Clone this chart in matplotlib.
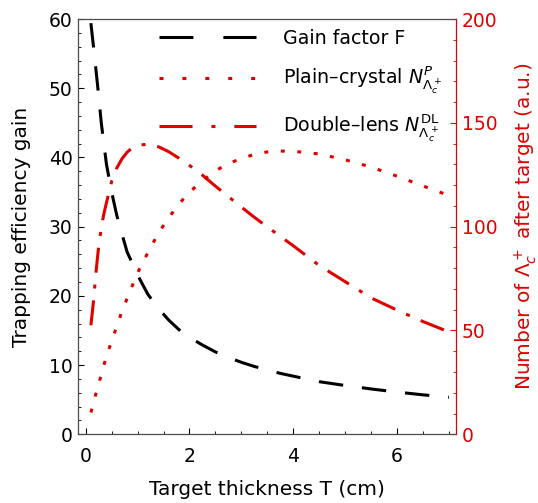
import matplotlib
matplotlib.use("Agg")
import matplotlib.pyplot as plt
from matplotlib.lines import Line2D
from matplotlib.ticker import MultipleLocator

# target thickness (cm)
thickness = [0.1, 0.15, 0.2, 0.25, 0.3, 0.35, 0.4, 0.5, 0.6, 0.7, 0.8, 0.9, 1.0,
             1.2, 1.4, 1.6, 1.8, 2.0, 2.25, 2.5, 2.75, 3.0, 3.25, 3.5, 3.75, 4.0,
             4.5, 5.0, 5.5, 6.0, 6.5, 7.0]

# gain factor F (left axis)
gain_f = [59.4, 56.0, 52.5, 48.9, 45.0, 42.0, 39.0, 35.0, 31.6, 28.9, 26.3, 24.7, 23.0,
          20.2, 18.2, 16.5, 15.1, 14.0, 12.9, 11.9, 11.1, 10.4, 9.8, 9.3, 8.8, 8.4,
          7.6, 7.05, 6.55, 6.1, 5.7, 5.35]

# plain-crystal N (right axis, a.u.)
n_plain = [10.5, 15.0, 19.9, 24.5, 28.5, 33.3, 37.5, 45.0, 52.0, 59.4, 65.5, 71.7, 77.8,
           87.6, 96.8, 104.3, 111.0, 116.6, 122.2, 126.9, 130.4, 132.8, 134.8, 136.0, 136.4, 136.3,
           135.0, 132.2, 128.7, 124.3, 119.6, 115.0]

# double-lens N (right axis, a.u.)
n_dl = [52.5, 64.0, 78.5, 90.5, 99.5, 106.2, 111.5, 121.8, 128.3, 132.7, 135.9, 138.0, 139.2,
        139.7, 138.5, 136.1, 132.9, 129.5, 124.8, 119.5, 114.5, 109.4, 104.5, 99.9, 95.3, 90.8,
        81.3, 73.5, 65.7, 59.8, 54.3, 49.3]

labels = ['Gain factor F',
          r'Plain$\endash$crystal $N^{P}_{\Lambda_c^+}$',
          r'Double$\endash$lens $N^{\rm DL}_{\Lambda_c^+}$']

RED = '#e00000'
TICK_FS = 13.5
LABEL_FS = 14.5
LEG_FS = 13.7
LW = 2.2

fig = plt.figure(figsize=(5.38, 5.03), dpi=100)
ax = fig.add_axes([0.1455, 0.1366, 0.702, 0.8256])
ax2 = ax.twinx()

ax.plot(thickness, gain_f, color='black', lw=LW, dashes=(8, 6.2))
ax2.plot(thickness, n_plain, color=RED, lw=LW, dashes=(1.3, 4.1))
ax2.plot(thickness, n_dl, color=RED, lw=LW, dashes=(8.2, 3.9, 1.3, 3.9))

ax.set_xlim(-0.143, 7.135)
ax.set_ylim(0, 60)
ax2.set_ylim(0, 200)

ax.xaxis.set_major_locator(MultipleLocator(2))
ax.xaxis.set_minor_locator(MultipleLocator(0.5))
ax.yaxis.set_major_locator(MultipleLocator(10))
ax.yaxis.set_minor_locator(MultipleLocator(2))
ax2.yaxis.set_major_locator(MultipleLocator(50))
ax2.yaxis.set_minor_locator(MultipleLocator(10))

ax.tick_params(which='both', direction='in', labelsize=TICK_FS, right=False, top=False)
ax.tick_params(axis='x', which='both', pad=9)
ax.tick_params(axis='y', which='both', pad=4)
ax.tick_params(which='major', length=4)
ax.tick_params(which='minor', length=2.5)
ax2.tick_params(which='both', direction='in', labelsize=TICK_FS, colors=RED, pad=4)
ax2.tick_params(which='major', length=4)
ax2.tick_params(which='minor', length=2.5)

for s in ['left', 'top', 'bottom']:
    ax2.spines[s].set_color('0.3')
ax2.spines['right'].set_color(RED)

ax.set_xlabel('Target thickness T (cm)', fontsize=LABEL_FS, labelpad=10)
ax.set_ylabel('Trapping efficiency gain', fontsize=LABEL_FS, labelpad=12.5)
ax2.set_ylabel(r'Number of $\Lambda_c^+$ after target (a.u.)', fontsize=LABEL_FS,
               color=RED, labelpad=11)

# legend handles drawn with the longer dash pattern seen in the key
handles = [Line2D([], [], color='black', lw=LW, dashes=(11.1, 9.8)),
           Line2D([], [], color=RED, lw=LW, dashes=(1.3, 6.2)),
           Line2D([], [], color=RED, lw=LW, dashes=(10.8, 6.2, 1.3, 6.2))]
ax2.legend(handles, labels, loc='upper right', bbox_to_anchor=(0.988, 1.0),
           frameon=False, fontsize=LEG_FS, handlelength=5.1, handletextpad=1.4,
           labelspacing=0.9, borderaxespad=0.1)

fig.savefig('out.png', dpi=100)
